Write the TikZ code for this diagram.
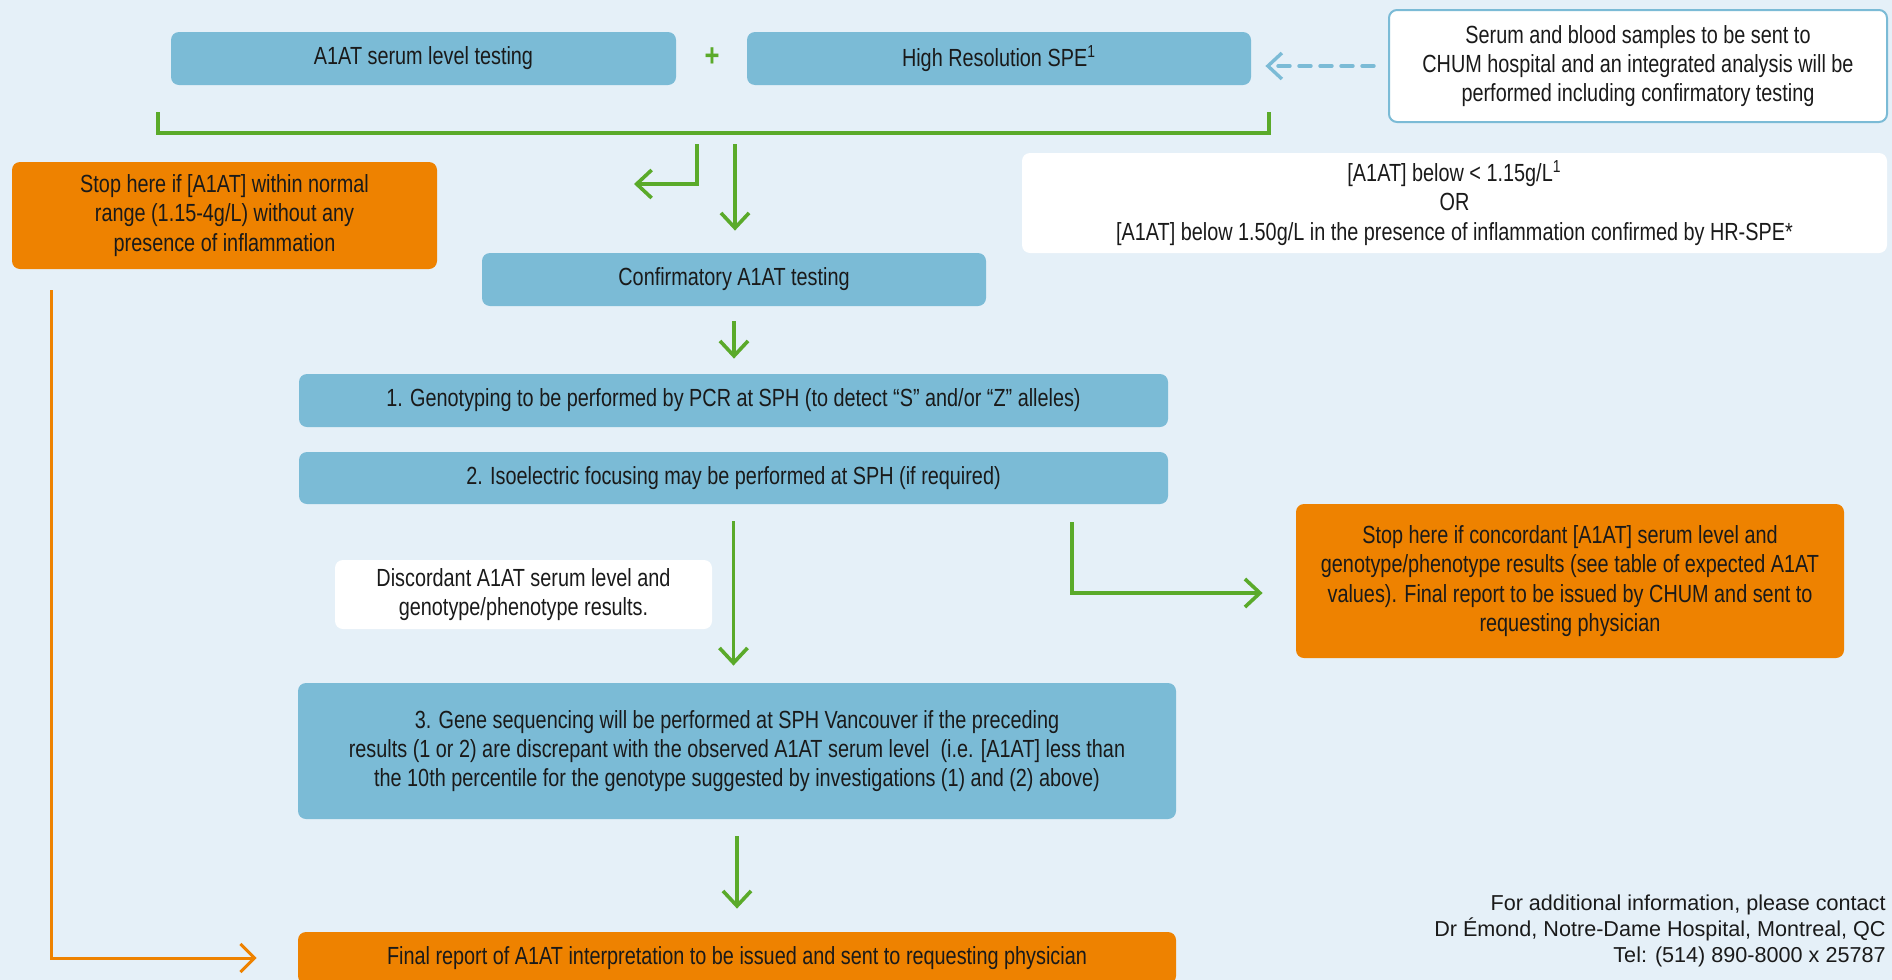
\documentclass[tikz,border=0pt]{standalone}
\usepackage{fontspec}
\setmainfont{Liberation Sans}[FakeStretch=0.8]
\newfontfamily\footfont{Liberation Sans}
\usetikzlibrary{arrows.meta}
\definecolor{bgblue}{HTML}{E5F0F8}
\definecolor{boxblue}{HTML}{7BBBD6}
\definecolor{flowgreen}{HTML}{5AAA2A}
\definecolor{stoporange}{HTML}{EE8200}
\definecolor{inktext}{HTML}{1A1A1A}

\begin{document}
\begin{tikzpicture}[x=0.5pt,y=-0.5pt,
		every node/.style={font=\fontsize{12.4}{14.7}\selectfont, text=inktext, align=center},
		box/.style={rounded corners=4pt, inner sep=0pt},
		test/.style={box, fill=boxblue},
		stop/.style={box, fill=stoporange},
		note/.style={box, fill=white},
		flow/.style={draw=flowgreen, line width=1.8pt, -{Straight Barb[length=7.5pt,width=14pt]}},
		skipline/.style={draw=stoporange, line width=1.5pt, -{Straight Barb[length=7pt,width=14pt]}},
		dashflow/.style={draw=boxblue, line width=1.7pt, line cap=round, dash pattern=on 6pt off 4.5pt, -{Straight Barb[length=7pt,width=13pt]}},
		footer/.style={font=\footfont\fontsize{10.8}{13}\selectfont, align=right, inner sep=0pt}]
		\useasboundingbox (0,0) rectangle (1892,980);
		\clip (0,0) rectangle (1892,980);
		\fill[bgblue] (0,0) rectangle (1892,980);

		\node[test, minimum width=252.5pt, minimum height=26.5pt] (serum) at (423.5,58.5) {A1AT serum level testing};
		\node[font=\bfseries\fontsize{16}{16}\selectfont, text=flowgreen] (plus) at (712,57) {+};
		\node[test, minimum width=252pt, minimum height=26.5pt] (hrspe) at (999,58.5) {High Resolution SPE\textsuperscript{1}};
		\node[note, draw=boxblue, line width=1pt, minimum width=249pt, minimum height=56pt] (chum) at (1638,66)
			{Serum and blood samples to be sent to\\CHUM hospital and an integrated analysis will be\\performed including confirmatory testing};
		\node[stop, minimum width=212.5pt, minimum height=53.5pt] (stopnormal) at (224.5,215.5)
			{Stop here if [A1AT] within normal\\range (1.15-4g/L) without any\\presence of inflammation};
		\node[note, minimum width=432.5pt, minimum height=50pt] (criteria) at (1454.5,203)
			{{[A1AT]} below < 1.15g/L\textsuperscript{1}\\OR\\{[A1AT]} below 1.50g/L in the presence of inflammation confirmed by HR-SPE*};
		\node[test, minimum width=252pt, minimum height=26.5pt] (confirm) at (734,279.5) {Confirmatory A1AT testing};
		\node[test, minimum width=434.5pt, minimum height=26.5pt] (geno) at (733.5,400.5)
			{1. Genotyping to be performed by PCR at SPH (to detect “S” and/or “Z” alleles)};
		\node[test, minimum width=434.5pt, minimum height=26pt] (iso) at (733.5,478)
			{2. Isoelectric focusing may be performed at SPH (if required)};
		\node[note, minimum width=188.5pt, minimum height=34.5pt] (discord) at (523.5,594.5)
			{Discordant A1AT serum level and\\genotype/phenotype results.};
		\node[stop, minimum width=274pt, minimum height=77pt] (stopconc) at (1570,581)
			{Stop here if concordant [A1AT] serum level and\\genotype/phenotype results (see table of expected A1AT\\values). Final report to be issued by CHUM and sent to\\requesting physician};
		\node[test, minimum width=439pt, minimum height=68pt] (seq) at (737,751)
			{3. Gene sequencing will be performed at SPH Vancouver if the preceding\\results (1 or 2) are discrepant with the observed A1AT serum level~ (i.e. [A1AT] less than\\the 10th percentile for the genotype suggested by investigations (1) and (2) above)};
		\node[stop, minimum width=439pt, minimum height=26pt] (final) at (737,958)
			{Final report of A1AT interpretation to be issued and sent to requesting physician};
		\node[footer, anchor=east] (contact) at (1886,931)
			{For additional information, please contact\\Dr Émond, Notre-Dame Hospital, Montreal, QC\\Tel: (514) 890-8000 x 25787};

		\coordinate (bl) at (158,112);
		\coordinate (br) at (1269,112);
		\draw[flowgreen, line width=1.8pt] (bl) -- ++(0,21) -| (br);
		\coordinate (split) at (697,144);
		\coordinate (backleft) at (634,184);
		\draw[flow] (split) |- (backleft);
		\coordinate (go) at (735,144);
		\draw[flow, shorten >=11pt] (go) -- (go |- confirm.north);
		\draw[flow, shorten <=7.5pt, shorten >=7.5pt] (confirm.south) -- (confirm.south |- geno.north);
		\draw[flow, shorten <=8.5pt, shorten >=8.5pt] (iso.south) -- (iso.south |- seq.north);
		\coordinate (concstart) at (1072,522);
		\draw[flow] (concstart) |- ([xshift=-16.5pt,yshift=-6pt]stopconc.west);
		\draw[flow, shorten <=8.5pt, shorten >=11.5pt] (seq.south) -- (final.north);
		\coordinate (skip) at (51,290);
		\draw[skipline] (skip) |- ([xshift=-20.5pt]final.west);
		\draw[dashflow, shorten <=7pt, shorten >=7pt] (chum.west) -- (chum.west -| hrspe.east);
	\end{tikzpicture}
\end{document}
